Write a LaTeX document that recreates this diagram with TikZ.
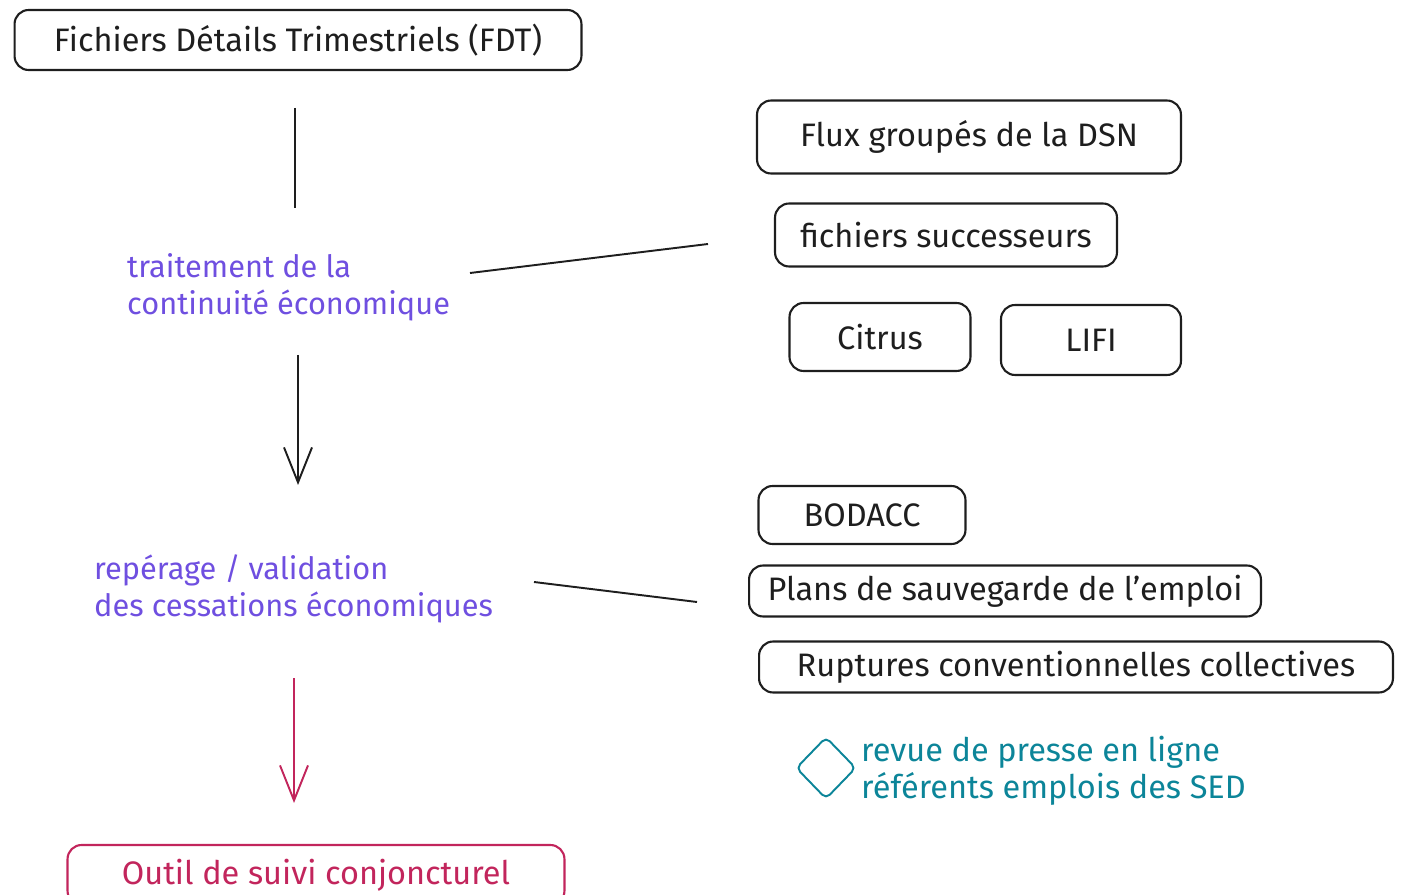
\documentclass[tikz,border=0pt]{standalone}
\usepackage{fontspec}
\setmainfont{Fira Sans}
\usepackage{tikz}
\usetikzlibrary{shapes.geometric}
\usetikzlibrary{arrows.meta}

\definecolor{ink}{HTML}{1E1E1E}
\definecolor{violetink}{HTML}{6F4FE0}
\definecolor{pinkink}{HTML}{C2255C}
\definecolor{tealink}{HTML}{0C8599}

\begin{document}
\begin{tikzpicture}[x=0.02cm, y=-0.02cm,
    box/.style={draw=ink, line width=1.2pt, rounded corners=8pt, text=ink,
        font=\fontsize{18.5}{21}\selectfont},
    note/.style={align=left, anchor=west, font=\fontsize{17.5}{21}\selectfont},
    link/.style={draw=ink, line width=1.1pt},
    vee/.style={-{Straight Barb[length=0.7cm, width=0.56cm, line width=1.1pt]}}]
    \useasboundingbox (0,0) rectangle (1401,895);

    % source boxes
    \node[box, minimum width=11.34cm, minimum height=1.2cm] (fdt) at (298,40)
        {Fichiers Détails Trimestriels (FDT)};
    \node[box, minimum width=8.48cm, minimum height=1.46cm] (flux) at (969,137)
        {Flux groupés de la DSN};
    \node[box, minimum width=6.84cm, minimum height=1.26cm] (succ) at (946,235)
        {fichiers successeurs};
    \node[box, minimum width=3.62cm, minimum height=1.36cm] (citrus) at (880,337)
        {Citrus};
    \node[box, minimum width=3.6cm, minimum height=1.4cm] (lifi) at (1091,340)
        {LIFI};
    \node[box, minimum width=4.14cm, minimum height=1.16cm] (bodacc) at (862,515)
        {BODACC};
    \node[box, minimum width=10.24cm, minimum height=1.02cm] (pse) at (1005,591)
        {Plans de sauvegarde de l'emploi};
    \node[box, minimum width=12.68cm, minimum height=1.02cm] (rcc) at (1076,667)
        {Ruptures conventionnelles collectives};

    % processing steps
    \node[note, text=violetink] (cont) at (121,287)
        {traitement de la\\continuité économique};
    \node[note, text=violetink] (cess) at (88,589)
        {repérage / validation\\des cessations économiques};

    % press review
    \node[diamond, draw=tealink, line width=1.1pt, rounded corners=3pt,
        minimum width=1.2cm, minimum height=1.24cm, inner sep=0pt] (press) at (826,768) {};
    \node[note, text=tealink, font=\fontsize{18.5}{21}\selectfont] (presstxt) at (855,771)
        {revue de presse en ligne\\référents emplois des SED};

    % output
    \node[box, draw=pinkink, text=pinkink, minimum width=9.94cm, minimum height=1.2cm]
        (outil) at (316,875) {Outil de suivi conjoncturel};

    % free ends of the links
    \coordinate (a1) at (295,108);
    \coordinate (a2) at (295,208);
    \coordinate (b1) at (298,355);
    \coordinate (b2) at (298,485);
    \coordinate (c1) at (294,678);
    \coordinate (c2) at (294,803);
    \coordinate (t1) at (470,273);
    \coordinate (s1) at (708,244);
    \coordinate (t2) at (534,582);
    \coordinate (s2) at (697,602);

    % links
    \draw[link] (a1) -- (a2);
    \draw[link, vee] (b1) -- (b2);
    \draw[link, draw=pinkink, vee] (c1) -- (c2);
    \draw[link] (t1) -- (s1);
    \draw[link] (t2) -- (s2);

\end{tikzpicture}
\end{document}
